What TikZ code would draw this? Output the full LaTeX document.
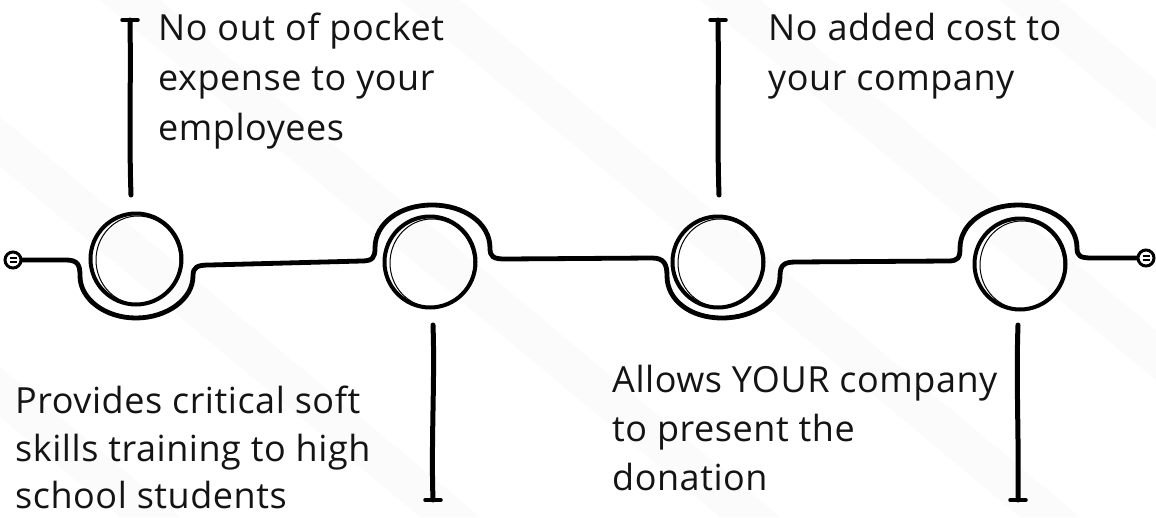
\documentclass[tikz,border=0pt]{standalone}
\usepackage{fontspec}
\setmainfont{Open Sans}[LetterSpace=1.5]
\usetikzlibrary{calc}
\begin{document}
\begin{tikzpicture}[x=1pt,y=-1pt,
  wire/.style={line width=4.8pt, line cap=round, line join=round},
  ring/.style={draw, circle, minimum size=91pt, line width=4pt, inner sep=0pt},
  sketch/.style={line width=1pt},
  stem/.style={line width=5pt, line cap=round},
  bar/.style={line width=3.5pt, line cap=round},
  term/.style={draw, circle, minimum size=16pt, line width=3pt, inner sep=0pt, fill=white},
  txt/.style={anchor=base west, inner sep=0pt, font=\fontsize{36}{50}\selectfont, text=black!92},
  stripe/.style={fill=black!1.6}]
\useasboundingbox (0,0) rectangle (1156,517);
\fill[white] (0,0) rectangle (1156,517);
\begin{scope}
\clip (0,0) rectangle (1156,517);
\foreach \s in {-500,-200,100,400,700,1000}{
  \fill[stripe] (\s,0) -- (\s+60,0) -- (\s+60+620,517) -- (\s+620,517) -- cycle;
}
\end{scope}

% rings
\node[ring] (r1) at (136,259) {};
\node[ring] (r2) at (430,262) {};
\node[ring] (r3) at (718,262) {};
\node[ring] (r4) at (1020,264) {};
\foreach \r in {r1,r2,r3,r4}{
  \draw[sketch] ($(\r.center)+(2,1)$) circle[x radius=42, y radius=44];
}

% terminals
\node[term] (tL) at (13,260) {};
\node[term] (tR) at (1146,258) {};
\foreach \t in {tL,tR}{
  \draw[line width=1.5pt] ($(\t.center)+(-3.5,-1.8)$) -- ($(\t.center)+(3.5,-1.8)$);
  \draw[line width=1.5pt] ($(\t.center)+(-3.5,1.8)$) -- ($(\t.center)+(3.5,1.8)$);
}

% main wire
\draw[wire] (tL.east) -- (66,260) .. controls (78,260) and (80,265) .. (80,276)
 .. controls (80,299) and (105,318) .. (136,318)
 .. controls (167,318) and (193,299) .. (193,276)
 .. controls (193,267) and (197,265) .. (210,265)
 -- (362,261)
 .. controls (373,261) and (375,257) .. (375,248)
 .. controls (375,223) and (400,205) .. (432,205)
 .. controls (464,205) and (490,223) .. (490,248)
 .. controls (490,257) and (493,259) .. (506,259)
 -- (652,258)
 .. controls (664,258) and (667,264) .. (667,276)
 .. controls (667,300) and (690,318) .. (722,318)
 .. controls (754,318) and (780,300) .. (780,276)
 .. controls (780,265) and (784,262) .. (796,262)
 -- (948,261)
 .. controls (958,261) and (960,258) .. (960,248)
 .. controls (960,223) and (987,205) .. (1018,205)
 .. controls (1050,205) and (1077,223) .. (1077,248)
 .. controls (1077,256) and (1080,258) .. (1092,258)
 -- (tR.west);

% stems
\coordinate (s1a) at (131,195); \coordinate (s1b) at (130,20);
\coordinate (s2a) at (433,325); \coordinate (s2b) at (433,500);
\coordinate (s3a) at (719,195); \coordinate (s3b) at (718,20);
\coordinate (s4a) at (1018,325); \coordinate (s4b) at (1018,500);
\draw[stem] (s1a) .. controls (129,140) and (131,80) .. (s1b);
\draw[stem] (s2a) .. controls (435,380) and (431,440) .. (s2b);
\draw[stem] (s3a) .. controls (717,140) and (719,80) .. (s3b);
\draw[stem] (s4a) .. controls (1016,380) and (1019,440) .. (s4b);
\draw[bar] ($(s1b)+(-8,0)$) -- ($(s1b)+(8,0)$);
\draw[bar] ($(s2b)+(-8,0)$) -- ($(s2b)+(8,0)$);
\draw[bar] ($(s3b)+(-8,0)$) -- ($(s3b)+(8,0)$);
\draw[bar] ($(s4b)+(-8,0)$) -- ($(s4b)+(8,0)$);

% texts
\node[txt] (a1) at (158,40) {No out of pocket};
\node[txt] (a2) at (158,90) {expense to your};
\node[txt] (a3) at (158,140) {employees};
\node[txt] (b1) at (15,413) {Provides critical soft};
\node[txt] (b2) at (15,461) {skills training to high};
\node[txt] (b3) at (15,508) {school students};
\node[txt] (c1) at (768,40) {No added cost to};
\node[txt] (c2) at (768,90) {your company};
\node[txt] (d1) at (612,392) {Allows YOUR company};
\node[txt] (d2) at (612,441) {to present the};
\node[txt] (d3) at (612,490) {donation};
\end{tikzpicture}
\end{document}
